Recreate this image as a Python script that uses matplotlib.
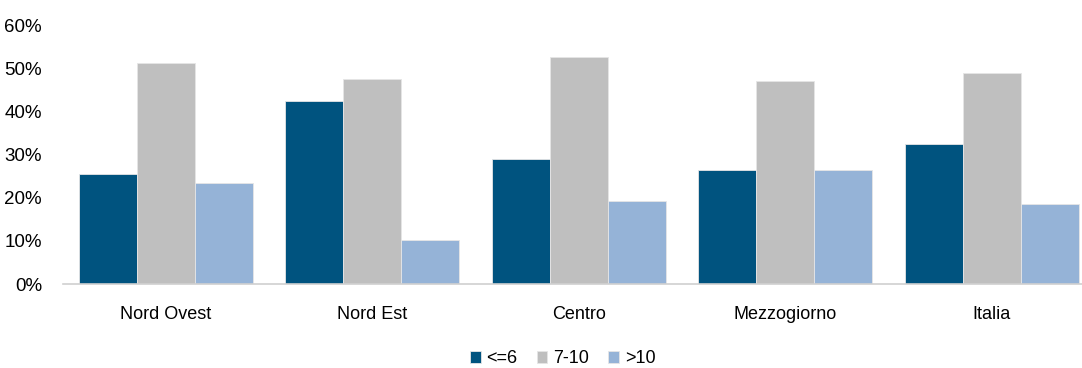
import numpy as np
import matplotlib
matplotlib.use('Agg')
import matplotlib.pyplot as plt
from matplotlib.ticker import FuncFormatter

plt.rcParams['font.family'] = ['Liberation Sans', 'DejaVu Sans']

regioni = ['Nord Ovest', 'Nord Est', 'Centro', 'Mezzogiorno', 'Italia']
serie_le6 = [25.6, 42.4, 29.0, 26.4, 32.5]
serie_7_10 = [51.2, 47.4, 52.5, 47.0, 49.0]
serie_gt10 = [23.3, 10.2, 19.3, 26.5, 18.6]
nomi = ['<=6', '7-10', '>10']
colori = ['#00537F', '#BFBFBF', '#95B3D7']

fig = plt.figure(figsize=(10.82, 3.68), dpi=100)
# l'asse esce un po' a destra come nell'originale
ax = fig.add_axes([0.058, 0.228, 0.954, 0.704])

x = np.arange(len(regioni))
w = 0.281
for i, (vals, nome, col) in enumerate(zip([serie_le6, serie_7_10, serie_gt10], nomi, colori)):
    ax.bar(x + (i - 1) * w, vals, w, color=col, label=nome, edgecolor='#E6E6E6', linewidth=0.6)

ax.set_ylim(0, 60)
ax.set_xlim(-0.5, len(regioni) - 0.5)
ax.set_yticks(range(0, 61, 10))
ax.yaxis.set_major_formatter(FuncFormatter(lambda v, p: '%d%%' % v))
ax.set_xticks(x)
ax.set_xticklabels(regioni, fontsize=13)
ax.tick_params(axis='y', labelsize=13.5, length=0, pad=15)
ax.tick_params(axis='x', length=0, pad=16)
for s in ['top', 'right', 'left']:
    ax.spines[s].set_visible(False)
ax.spines['bottom'].set_color('#D0D0D0')
ax.spines['bottom'].set_linewidth(1.2)

fig.legend(loc='center', bbox_to_anchor=(0.52, 0.025), ncol=3, frameon=False, fontsize=13,
           handlelength=0.6, handleheight=0.6, handletextpad=0.33, columnspacing=1.05)

fig.savefig('out.png', dpi=100)
